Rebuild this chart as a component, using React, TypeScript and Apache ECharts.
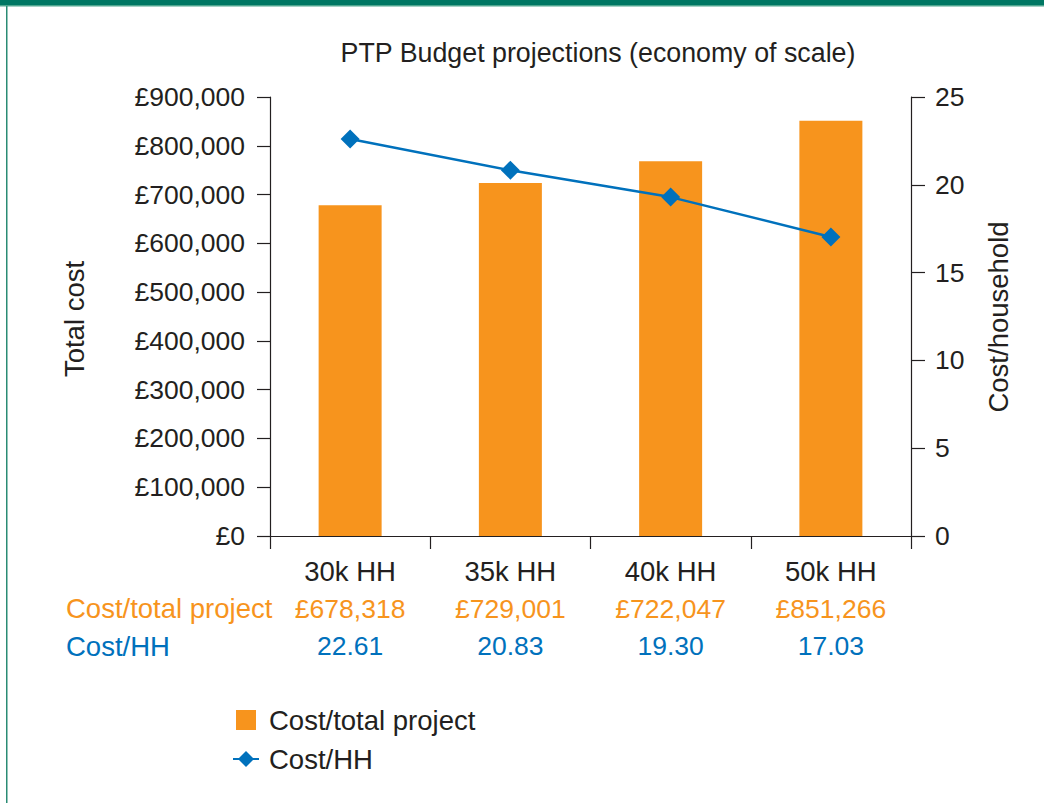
import React, { useEffect, useRef } from "react";
import * as echarts from "echarts";

const categories = ["30k HH", "35k HH", "40k HH", "50k HH"];
const barValues = [678318, 723500, 768500, 851266];
const tableCost = ["£678,318", "£729,001", "£722,047", "£851,266"];
const costPerHH = [22.61, 20.83, 19.3, 17.03];
const leftTicks = { min: 0, max: 900000, interval: 100000 };
const rightTicks = { min: 0, max: 25, interval: 5 };

const ORANGE = "#f7941d";
const BLUE = "#0071bc";
const TEXT = "#231f20";
const FONT = "'Liberation Sans', Arial, Helvetica, sans-serif";
const FS = 26.5;
const FW = 27.5;

export default function App() {
  const ref = useRef<HTMLDivElement>(null);
  useEffect(() => {
    if (!ref.current) return;
    const chart = echarts.init(ref.current, null, { renderer: "svg" });
    const fmtMoney = (v: number) =>
      "£" + Math.round(v).toString().replace(/\B(?=(\d{3})+(?!\d))/g, ",");
    chart.setOption({
      animation: false,
      backgroundColor: "#ffffff",
      textStyle: { fontFamily: FONT },
      title: {
        text: "PTP Budget projections (economy of scale)",
        left: 593,
        top: 34,
        textAlign: "center",
        textStyle: { fontFamily: FONT, fontSize: 26.8, fontWeight: "normal", color: TEXT },
      },
      grid: { left: 270, right: 133, top: 97, bottom: 267, containLabel: false },
      legend: {
        orient: "vertical",
        left: 227,
        top: 701,
        itemWidth: 26,
        itemHeight: 20,
        itemGap: 11,
        textStyle: { fontFamily: FONT, fontSize: FW, color: TEXT, padding: [0, 0, 0, 5] },
        data: [
          { name: "Cost/total project", icon: "path://M0 0H20V20H0Z" },
          { name: "Cost/HH" },
        ],
      },
      xAxis: {
        type: "category",
        data: categories,
        axisLine: { lineStyle: { color: TEXT, width: 1.2 } },
        axisTick: { show: true, length: 13, lineStyle: { color: TEXT, width: 1.2 } },
        axisLabel: {
          margin: 17,
          interval: 0,
          formatter: (val: string, idx: number) =>
            `{a|${val}}\n{b|${tableCost[idx]}}\n{c|${costPerHH[idx].toFixed(2)}}`,
          rich: {
            a: { fontFamily: FONT, fontSize: FW, color: TEXT, lineHeight: 37 },
            b: { fontFamily: FONT, fontSize: FS, color: ORANGE, lineHeight: 37 },
            c: { fontFamily: FONT, fontSize: FS, color: BLUE, lineHeight: 37 },
          },
        },
      },
      yAxis: [
        {
          type: "value",
          ...leftTicks,
          position: "left",
          axisLine: { show: true, lineStyle: { color: TEXT, width: 1.2 } },
          axisTick: { show: true, length: 13, lineStyle: { color: TEXT, width: 1.2 } },
          splitLine: { show: false },
          axisLabel: {
            margin: 25,
            fontFamily: FONT,
            fontSize: FS,
            color: TEXT,
            formatter: (v: number) => fmtMoney(v),
          },
        },
        {
          type: "value",
          ...rightTicks,
          position: "right",
          axisLine: { show: true, lineStyle: { color: TEXT, width: 1.2 } },
          axisTick: { show: true, length: 14, lineStyle: { color: TEXT, width: 1.2 } },
          splitLine: { show: false },
          axisLabel: { margin: 24, fontFamily: FONT, fontSize: FS, color: TEXT },
        },
      ],
      series: [
        {
          name: "Cost/total project",
          type: "bar",
          data: barValues,
          yAxisIndex: 0,
          barWidth: 63,
          itemStyle: { color: ORANGE },
        },
        {
          name: "Cost/HH",
          type: "line",
          data: costPerHH,
          yAxisIndex: 1,
          symbol: "diamond",
          symbolSize: 19,
          lineStyle: { color: BLUE, width: 2.5 },
          itemStyle: { color: BLUE },
          z: 5,
        },
      ],
      graphic: [
        { type: "rect", shape: { x: 0, y: 0, width: 1044, height: 5 }, style: { fill: "#007763" } },
        { type: "rect", shape: { x: 0, y: 5, width: 1044, height: 1.5 }, style: { fill: "#4fa68f" } },
        { type: "rect", shape: { x: 6, y: 6, width: 1.5, height: 797 }, style: { fill: "#2a8b74" } },
        {
          type: "text",
          x: 74,
          y: 319,
          rotation: Math.PI / 2,
          style: {
            text: "Total cost",
            fontFamily: FONT,
            fontSize: FW,
            fill: TEXT,
            align: "center",
            verticalAlign: "middle",
          },
        },
        {
          type: "text",
          x: 998,
          y: 317,
          rotation: Math.PI / 2,
          style: {
            text: "Cost/household",
            fontFamily: FONT,
            fontSize: FW,
            fill: TEXT,
            align: "center",
            verticalAlign: "middle",
          },
        },
        {
          type: "text",
          x: 66,
          y: 608,
          style: {
            text: "Cost/total project",
            fontFamily: FONT,
            fontSize: FW,
            fill: ORANGE,
            align: "left",
            verticalAlign: "middle",
          },
        },
        {
          type: "text",
          x: 66,
          y: 646,
          style: {
            text: "Cost/HH",
            fontFamily: FONT,
            fontSize: FW,
            fill: BLUE,
            align: "left",
            verticalAlign: "middle",
          },
        },
      ],
    });
    return () => chart.dispose();
  }, []);
  return (
    <div
      ref={ref}
      style={{ position: "absolute", left: 0, top: 0, width: 1044, height: 803 }}
    />
  );
}
